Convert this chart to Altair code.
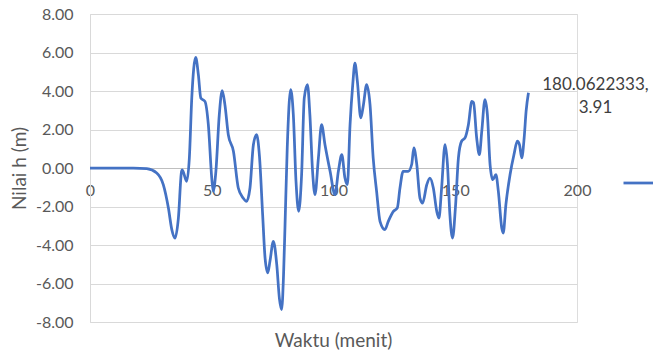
import altair as alt
import pandas as pd

# ---- data ----
t_values = [0, 10, 17.8, 23.3, 27.4, 30.1, 32.2, 33.6, 34.9, 36.3, 37.6, 37.9, 39.7,
            40.8, 41.8, 43.4, 44.5, 45.5, 47.2, 48.6, 50.0, 50.6, 51.7, 53.1, 54.3,
            55.4, 56.8, 58.9, 60.9, 62.9, 64.3, 65.7, 67.1, 68.4, 69.6, 70.9, 71.9,
            73.0, 73.9, 75.3, 76.7, 77.8, 78.7, 79.5, 80.1, 81.0, 82.4, 83.5, 84.6,
            85.7, 86.9, 88.0, 89.3, 90.3, 91.4, 92.4, 93.8, 95.1, 96.5, 98.6, 100.6,
            102.0, 103.4, 104.7, 105.7, 106.8, 107.9, 108.8, 109.8, 111.2, 112.3,
            113.6, 115.0, 116.3, 117.7, 119.1, 121.1, 122.5, 124.6, 126.2, 127.3,
            128.6, 130.7, 132.1, 133.0, 134.2, 135.5, 136.6, 138.3, 139.6, 141.0,
            142.4, 143.3, 144.4, 145.8, 146.8, 147.8, 148.9, 150.1, 151.3, 152.6,
            154.0, 155.4, 156.8, 157.5, 158.8, 159.9, 160.9, 162.2, 163.2, 164.3,
            165.4, 166.7, 167.7, 169.1, 169.7, 170.8, 172.5, 174.1, 175.5, 176.4,
            177.3, 178.3, 179.1, 180.0622333]
h_values = [0, 0, 0, -0.03, -0.26, -0.86, -2.08, -3.2, -3.64, -2.6, -0.17, -0.1, -0.69,
            0.52, 3.64, 5.75, 4.85, 3.64, 3.46, 2.25, -0.52, -1.21, -0.17, 2.77, 4.02,
            3.29, 1.73, 0.87, -1.04, -1.56, -1.73, -1.04, 1.21, 1.73, 0.6, -2.42, -4.68,
            -5.45, -4.85, -3.81, -5.02, -6.8, -7.36, -5.5, -2.94, 1.04, 4.07, 2.77, -0.69,
            -2.25, -0.35, 3.64, 4.33, 2.77, -0.17, -1.38, 0.52, 2.25, 1.21, -0.17, -1.38,
            -0.17, 0.69, -0.52, -0.87, 2.25, 4.33, 5.45, 4.5, 2.6, 3.29,
            4.33, 3.29, 0.52, -1.21, -2.77, -3.2, -2.77, -2.25, -2.08, -1.04,
            -0.17, -0.17, 0.18, 1.04, 0.18, -1.56, -1.82, -0.87, -0.52, -1.04,
            -2.25, -2.6, -1.04, 1.21, 0.18, -2.42, -3.64, -2.0, 0.52, 1.39,
            1.56, 2.25, 3.46, 3.4, 1.56, 0.69, 1.91, 3.55, 2.77, 0.18,
            -0.61, -0.35, -1.21, -3.12, -3.38, -1.9, -0.35, 0.69, 1.39, 1.2,
            0.52, 1.56, 2.95, 3.91]
series_name = [" "]
x_ticks = [0, 50, 100, 150, 200]
y_ticks = [-8, -6, -4, -2, 0, 2, 4, 6, 8]
end_label = "180.0622333,\n3.91"

FONT = "Lato"
GRAY = "#595959"
BLUE = "#4472C4"

df = pd.DataFrame({"t": t_values, "h": h_values, "s": series_name[0]})
last = pd.DataFrame({"t": [t_values[-1]], "h": [h_values[-1]], "label": [end_label]})

x_enc = alt.X(
    "t:Q",
    scale=alt.Scale(domain=[0, 200], nice=False),
    axis=alt.Axis(values=x_ticks, title=None, grid=False, ticks=False,
                  domainColor="#bfbfbf", domainWidth=1, offset=-154,
                  labelPadding=14, labelFont=FONT, labelFontSize=16,
                  labelColor=GRAY, labelFlush=False, labelOverlap=False),
)
y_enc = alt.Y(
    "h:Q",
    scale=alt.Scale(domain=[-8, 8], nice=False, zero=False),
    axis=alt.Axis(values=y_ticks, title="Nilai h (m)",
                  labelExpr="replace(format(datum.value, '.2f'), '\u2212', '-')",
                  grid=True, gridColor="#d9d9d9", gridWidth=1, ticks=False,
                  domainColor="#d9d9d9", domainWidth=1,
                  labelPadding=17, labelFont=FONT, labelFontSize=16, labelColor=GRAY,
                  labelFlush=False, labelOverlap=False,
                  titlePadding=6, titleFont=FONT, titleFontSize=19,
                  titleFontWeight="normal", titleColor=GRAY),
)

line = alt.Chart(df).mark_line(interpolate="monotone", strokeWidth=2.75, clip=False).encode(
    x=x_enc,
    y=y_enc,
    color=alt.Color(
        "s:N",
        scale=alt.Scale(range=[BLUE]),
        legend=alt.Legend(orient="none", legendX=532, legendY=152, title=None,
                          symbolType="stroke", symbolSize=961, symbolStrokeWidth=2.75,
                          labelExpr="''", padding=0),
    ),
)

label = alt.Chart(last).mark_text(
    align="center", baseline="middle", dx=67, dy=-8, lineBreak="\n", lineHeight=23,
    font=FONT, fontSize=17, color="#404040",
).encode(x=x_enc, y=y_enc, text="label:N")

chart = alt.layer(line, label).properties(
    width=487,
    height=308,
    padding={"left": 82, "top": 6, "right": 76, "bottom": 28},
    autosize=alt.AutoSizeParams(type="none"),
    title=alt.TitleParams("Waktu (menit)", orient="bottom", anchor="middle", frame="group",
                          offset=2, font=FONT, fontSize=19, fontWeight="normal", color=GRAY),
).configure_view(stroke=None).configure(background="white")

chart.save("out.html", embed_options={"renderer": "svg", "actions": False})
